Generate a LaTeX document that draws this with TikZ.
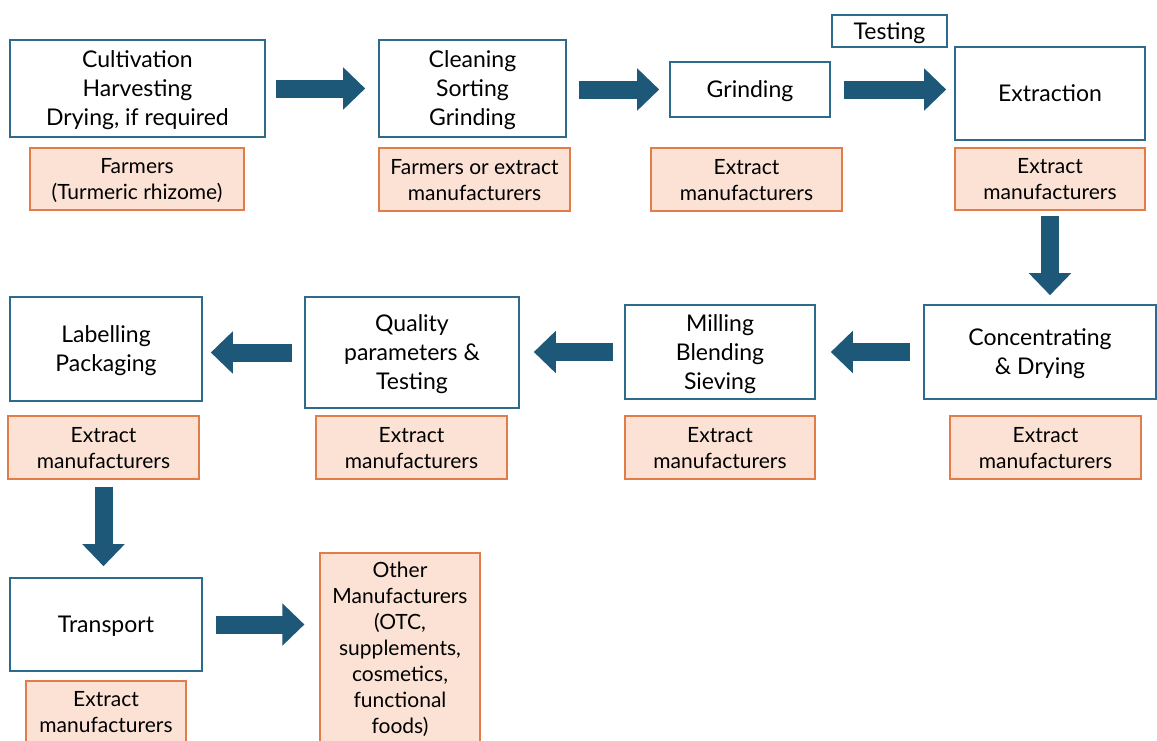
\documentclass[tikz,border=0pt]{standalone}
\usepackage{fontspec}
\setmainfont{Lato}
\usetikzlibrary{arrows.meta}

\definecolor{stepblue}{RGB}{46,106,140}
\definecolor{arrowblue}{RGB}{30,88,120}
\definecolor{wholine}{RGB}{226,124,72}
\definecolor{whofill}{RGB}{251,226,213}

\tikzset{
    stepbox/.style={draw=stepblue, line width=1.6pt, fill=white, align=center, inner sep=0pt,
        text depth=0pt, font=\fontsize{23}{29}\selectfont},
    whobox/.style={draw=wholine, line width=1.2pt, fill=whofill, align=center, inner sep=0pt,
        text depth=0pt, font=\fontsize{21}{26}\selectfont},
    bigarrow/.style={draw=arrowblue, line width=18pt,
        -{Triangle[width=41pt,length=22pt]}},
}

\begin{document}
\begin{tikzpicture}[x=1pt,y=-1pt]
        \useasboundingbox (0,0) rectangle (1157,740);

        % top row
        \node [stepbox, minimum width=255, minimum height=97] (cult) at (137.5,88.5) {Cultivation\\Harvesting\\Drying, if required};
        \node [whobox, minimum width=214, minimum height=62] (cultwho) at (137,179) {Farmers\\(Turmeric rhizome)};
        \node [stepbox, minimum width=187, minimum height=97] (clean) at (472.5,88.5) {Cleaning\\Sorting\\Grinding};
        \node [whobox, minimum width=191, minimum height=63] (cleanwho) at (474.5,179.5) {Farmers or extract\\manufacturers};
        \node [stepbox, minimum width=160, minimum height=55] (grind) at (750,89.5) {Grinding};
        \node [whobox, minimum width=191, minimum height=63] (grindwho) at (746.5,179.5) {Extract\\manufacturers};
        \node [stepbox, minimum width=115, minimum height=32] (test) at (889.5,31) {Testing};
        \node [stepbox, minimum width=190, minimum height=93] (extr) at (1050,93.5) {Extraction};
        \node [whobox, minimum width=190, minimum height=62] (extrwho) at (1050,179) {Extract\\manufacturers};

        % middle row
        \node [stepbox, minimum width=232, minimum height=94] (conc) at (1040,352) {Concentrating\\\& Drying};
        \node [whobox, minimum width=191, minimum height=63] (concwho) at (1045.5,447.5) {Extract\\manufacturers};
        \node [stepbox, minimum width=190, minimum height=94] (mill) at (720,352) {Milling\\Blending\\Sieving};
        \node [whobox, minimum width=190, minimum height=63] (millwho) at (720,447.5) {Extract\\manufacturers};
        \node [stepbox, minimum width=214, minimum height=111] (qual) at (412,352.5) {Quality\\parameters \&\\Testing};
        \node [whobox, minimum width=191, minimum height=63] (qualwho) at (411.5,447.5) {Extract\\manufacturers};
        \node [stepbox, minimum width=192, minimum height=104] (label) at (106,349) {Labelling\\Packaging};
        \node [whobox, minimum width=191, minimum height=63] (labelwho) at (103.5,447.5) {Extract\\manufacturers};

        % bottom row
        \node [stepbox, minimum width=192, minimum height=93] (trans) at (106,624.5) {Transport};
        \node [whobox, minimum width=160, minimum height=62] (transwho) at (106,712) {Extract\\manufacturers};
        \node [whobox, minimum width=160, minimum height=189] (other) at (400,647.5) {Other\\Manufacturers\\(OTC,\\supplements,\\cosmetics,\\functional\\foods)};

        % block arrows
        \draw [bigarrow, shorten <=10pt, shorten >=13pt] (cult.east) -- (cult.east -| clean.west);
        \draw [bigarrow, shorten <=12pt, shorten >=10pt] (clean.east |- grind.east) -- (grind.west);
        \draw [bigarrow, shorten <=13pt, shorten >=8pt] (grind.east) -- (grind.east -| extr.west);
        \draw [bigarrow, shorten <=5pt, shorten >=9pt] (extrwho.south) -- (extrwho.south |- conc.north);
        \draw [bigarrow, shorten <=13pt, shorten >=15pt] (conc.west) -- (mill.east);
        \draw [bigarrow, shorten <=11pt, shorten >=14pt] (mill.west) -- (mill.west -| qual.east);
        \draw [bigarrow, shorten <=12pt, shorten >=8pt] (qual.west) -- (qual.west -| label.east);
        \draw [bigarrow, shorten <=7pt, shorten >=11pt] (labelwho.south) -- (labelwho.south |- trans.north);
        \draw [bigarrow, shorten <=13pt, shorten >=15pt] (trans.east) -- (trans.east -| other.west);

    \end{tikzpicture}
\end{document}
